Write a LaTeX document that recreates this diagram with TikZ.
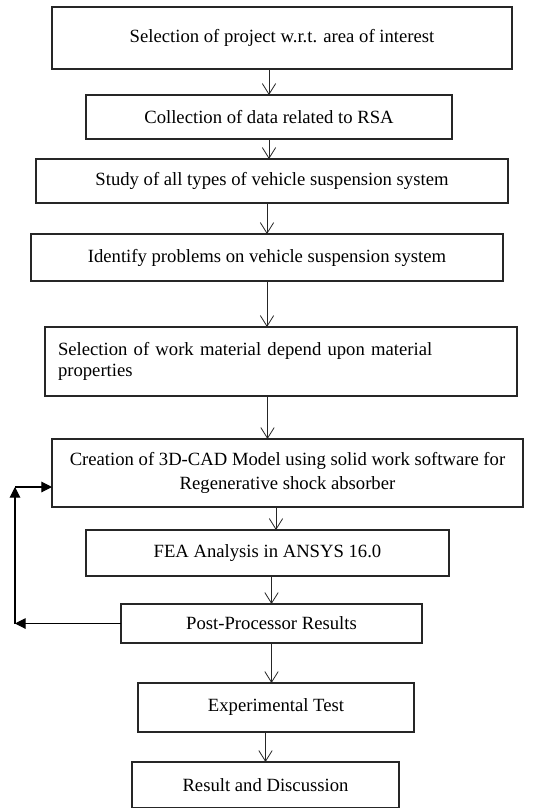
\documentclass[tikz,border=0pt,12pt]{standalone}
\usepackage{fontspec}
\setmainfont{Liberation Serif}
\usepackage{tikz}
\usetikzlibrary{arrows.meta}

\begin{document}
\begin{tikzpicture}[x=0.75pt,y=-0.75pt]
\tikzstyle{every node}+=[inner sep=0pt,outer sep=0pt]
\tikzstyle{box}=[draw=black!85,line width=0.9pt,fill=white,align=center,font=\fontsize{14}{16}\selectfont]
\tikzstyle{flow}=[black!85,line width=0.6pt,-{Straight Barb[length=8pt,width=10pt]}]
\tikzstyle{back}=[black,line width=0.8pt,-{Triangle[length=8pt,width=8pt]}]
\useasboundingbox (0,0) rectangle (544,808);
\node [box,minimum width=345pt,minimum height=46.5pt] (b1) at (282,38) {Selection of project w.r.t. area of interest};
\node [box,minimum width=274.5pt,minimum height=33pt] (b2) at (269,117) {Collection of data related to RSA};
\node [box,minimum width=354pt,minimum height=33pt] (b3) at (272,181) {Study of all types of vehicle suspension system};
\node [box,minimum width=354pt,minimum height=35.25pt] (b4) at (267,257.5) {Identify problems on vehicle suspension system};
\node [box,minimum width=354pt,minimum height=51.75pt,text width=334.5pt,align=left,font=\fontsize{14}{15.75}\selectfont] (b5) at (281,361.5) {Selection of work material depend upon material\\properties};
\node [box,minimum width=353.25pt,minimum height=51pt,font=\fontsize{14}{18}\selectfont] (b6) at (287.5,473) {Creation of 3D-CAD Model using solid work software for\\Regenerative shock absorber};
\node [box,minimum width=272.25pt,minimum height=34.5pt] (b7) at (267.5,553) {FEA Analysis in ANSYS 16.0};
\node [box,minimum width=225.75pt,minimum height=29.25pt] (b8) at (271.5,623.5) {Post-Processor Results};
\node [box,minimum width=207pt,minimum height=36.75pt] (b9) at (276,707.5) {Experimental Test};
\node [box,minimum width=200.25pt,minimum height=34.5pt] (b10) at (265.5,785) {Result and Discussion};
\draw [flow] (b1.south -| b2) -- (b2);
\draw [flow] (b2) -- (b2 |- b3.north);
\draw [flow] (b3.south -| b4) -- (b4);
\draw [flow] (b4) -- (b4 |- b5.north);
\draw [flow] (b5.south -| b7) -- (b7 |- b6.north);
\draw [flow] (b6.south -| b9) -- (b9 |- b7.north);
\draw [flow] (b7.south -| b8) -- (b8);
\draw [flow] (b8) -- (b8 |- b9.north);
\draw [flow] (b9.south -| b10) -- (b10);
\coordinate (fbl) at (15,623.5);
\coordinate (fbt) at (15,487);
\draw [back] (b8.west) -- (fbl);
\draw [back] (fbl) -- (fbt);
\draw [back] (fbt) -- (fbt -| b6.west);
\end{tikzpicture}
\end{document}
